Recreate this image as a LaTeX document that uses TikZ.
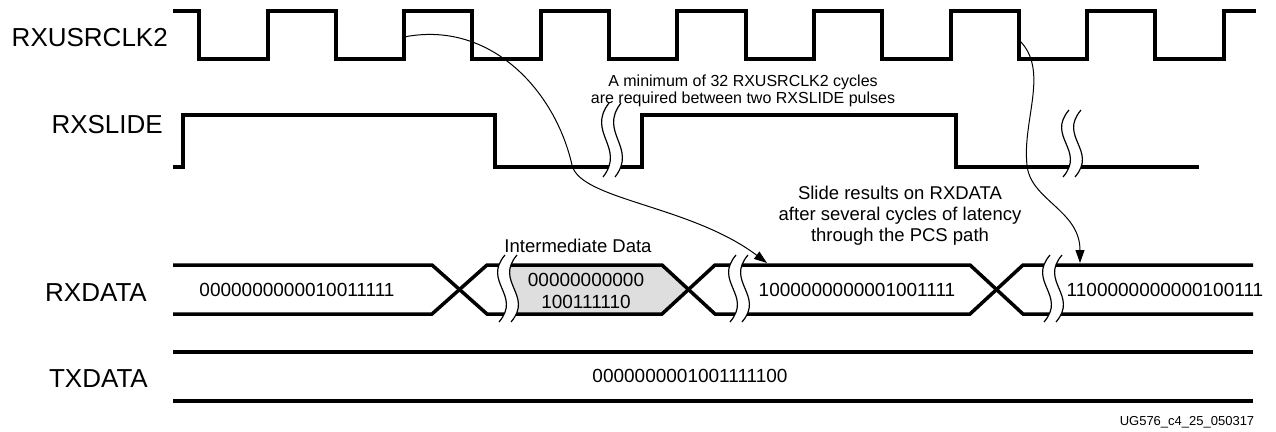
\documentclass[tikz,border=0pt]{standalone}
\usepackage{fontspec}
\setmainfont{Liberation Sans}
\usetikzlibrary{arrows.meta}
\tikzset{sig/.style={line width=3.5pt}, lbl/.style={font=\fontsize{26}{30}\selectfont, anchor=east, inner sep=0pt}}
\tikzset{bits/.style={font=\fontsize{19}{22}\selectfont, inner sep=0pt, align=center}, note/.style={font=\fontsize{18.5}{21}\selectfont, inner sep=0pt, align=center}}
\tikzset{lag/.style={-{Triangle[length=13pt,width=9pt]}, line width=1pt}}
\newcommand{\cutmark}[3]{\fill[white] (#1+3,#2) .. controls (#1-20,{#2+0.4*(#3-#2)}) and (#1+20,{#2+0.6*(#3-#2)}) .. (#1-3,#3) -- (#1+9,#3) .. controls (#1+32,{#2+0.6*(#3-#2)}) and (#1-8,{#2+0.4*(#3-#2)}) .. (#1+15,#2) -- cycle;
\draw[line width=1.2pt] (#1+3,#2) .. controls (#1-20,{#2+0.4*(#3-#2)}) and (#1+20,{#2+0.6*(#3-#2)}) .. (#1-3,#3);
\draw[line width=1.2pt] (#1+15,#2) .. controls (#1-8,{#2+0.4*(#3-#2)}) and (#1+32,{#2+0.6*(#3-#2)}) .. (#1+9,#3);}

\begin{document}
\begin{tikzpicture}[x=1pt,y=-1pt]
\useasboundingbox (0,0) rectangle (1276,431);
\draw[sig] (173,11) -| (199,59) -| (268,11) -| (336,59) -| (404,11) -| (472,59) -| (541,11) -| (609,59) -| (677,11) -| (746,59) -| (814,11) -| (882,59) -| (951,11) -| (1019,59) -| (1087,11) -| (1155,59) -| (1224,11) -- (1256,11);
\draw[sig] (173,167) -| (183,115) -| (495,167) -| (642,115) -| (956,167) -- (1199,167);
\fill[black!13] (508,265) -- (662,265) -- (688,289.5) -- (662,314) -- (508,314) -- cycle;
\draw[sig] (173,265) -- (432,265) -- (487,314) -- (662,314) -- (715,265) -- (970,265) -- (1023,314) -- (1253,314);
\draw[sig] (173,314) -- (432,314) -- (487,265) -- (662,265) -- (715,314) -- (970,314) -- (1023,265) -- (1253,265);
\draw[sig] (173,352) -- (1253,352);
\draw[sig] (173,401) -- (1253,401);
\cutmark{606}{103}{177}
\cutmark{1066}{110}{177}
\cutmark{502}{255}{322}
\cutmark{733}{255}{322}
\cutmark{1047}{255}{322}
\node[lbl] (clk) at (168,38) {RXUSRCLK2};
\node[lbl] (slide) at (163,125) {RXSLIDE};
\node[lbl] (rxd) at (147,293) {RXDATA};
\node[lbl] (txd) at (148,379) {TXDATA};
\node[bits] (rxd0) at (297,290) {0000000000010011111};
\node[bits] (rxd1) at (586,291) {00000000000\\100111110};
\node[bits] (rxd2) at (857,290) {1000000000001001111};
\node[bits] (rxd3) at (1165,290) {1100000000000100111};
\node[bits] (txd0) at (690,376) {0000000001001111100};
\node[note, font=\fontsize{16}{17}\selectfont] (gapnote) at (743,91) {A minimum of 32 RXUSRCLK2 cycles\\are required between two RXSLIDE pulses};
\node[note] (latnote) at (900,216) {Slide results on RXDATA\\after several cycles of latency\\through the PCS path};
\node[note, anchor=base] (mid) at (578,252) {Intermediate Data};
\node[font=\fontsize{13}{15}\selectfont, inner sep=0pt] (fig) at (1187,422) {UG576\_c4\_25\_050317};
\coordinate (clkA) at (404,37);
\coordinate (rxA) at (767,263);
\coordinate (clkB) at (1019,40);
\coordinate (rxB) at (1080,263);
\draw[lag] (clkA) .. controls (490,20) and (555,90) .. (572,165) .. controls (580,200) and (690,205) .. (rxA);
\draw[lag] (clkB) .. controls (1050,70) and (1022,120) .. (1027,165) .. controls (1030,200) and (1080,210) .. (rxB);
\end{tikzpicture}
\end{document}
